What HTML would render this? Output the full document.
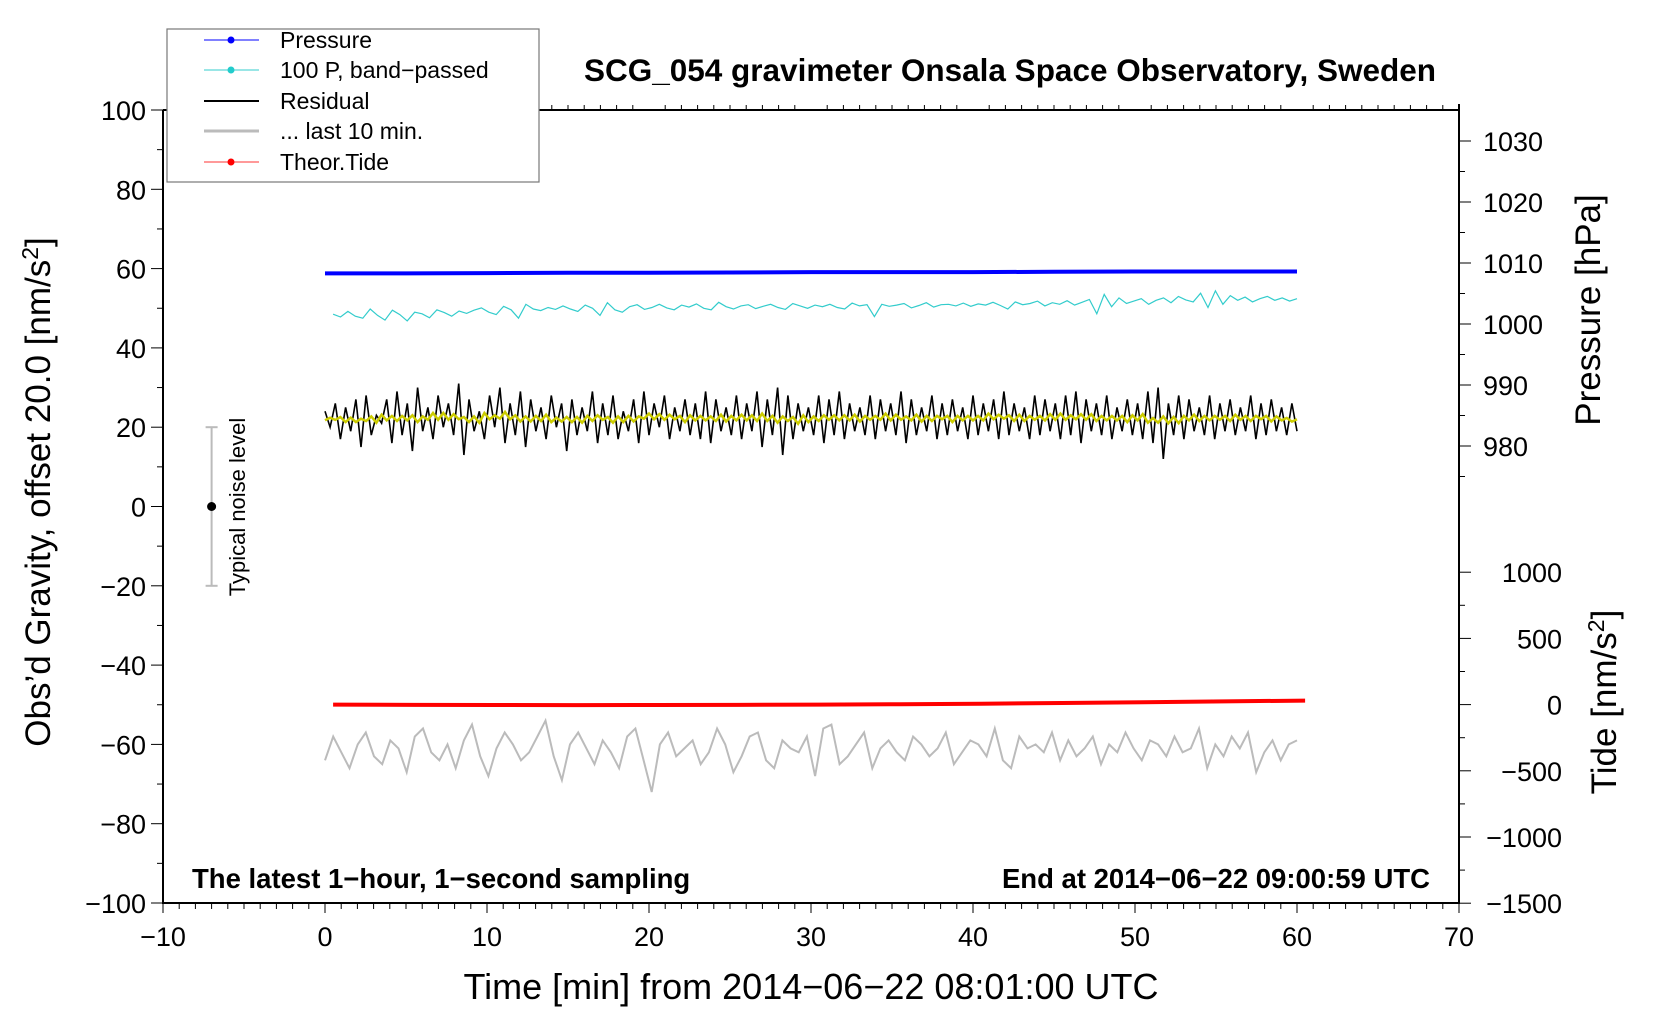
<!DOCTYPE html>
<html><head><meta charset="utf-8"><style>
html,body{margin:0;padding:0;background:#fff}
svg{display:block;font-family:"Liberation Sans",Arial,sans-serif}
</style></head><body>
<svg id="chart" width="1660" height="1020" viewBox="0 0 1660 1020">
<g id="marks"></g>
<g id="axes"></g>
<text x="1010" y="81" font-size="31.5" font-weight="bold" text-anchor="middle">SCG_054 gravimeter Onsala Space Observatory, Sweden</text>
<text x="192" y="888" font-size="27.5" font-weight="bold">The latest 1−hour, 1−second sampling</text>
<text x="1430" y="888" font-size="27.5" font-weight="bold" text-anchor="end">End at 2014−06−22 09:00:59 UTC</text>
<text transform="translate(50,492) rotate(-90)" font-size="35" text-anchor="middle">Obs’d Gravity, offset 20.0 [nm/s<tspan font-size="23" dy="-12">2</tspan><tspan dy="12">]</tspan></text>
<text transform="translate(1600,310) rotate(-90)" font-size="35" text-anchor="middle">Pressure [hPa]</text>
<text transform="translate(1616,702) rotate(-90)" font-size="35" text-anchor="middle">Tide [nm/s<tspan font-size="23" dy="-12">2</tspan><tspan dy="12">]</tspan></text>
<text x="811" y="999" font-size="36" text-anchor="middle">Time [min] from 2014−06−22 08:01:00 UTC</text>
<text transform="translate(245,507) rotate(-90)" font-size="22" text-anchor="middle">Typical noise level</text>
<g>
<rect x="167" y="29" width="372" height="153" fill="#fff" stroke="#777" stroke-width="1.2"/>
<line x1="204" x2="259" y1="40" y2="40" stroke="#0000ff" stroke-width="1"/><circle cx="231" cy="40" r="3.5" fill="#0000ff"/>
<text x="280" y="48" font-size="23">Pressure</text>
<line x1="204" x2="259" y1="70" y2="70" stroke="#33cccc" stroke-width="1"/><circle cx="231" cy="70" r="3.5" fill="#22cccc"/>
<text x="280" y="78" font-size="23">100 P, band−passed</text>
<line x1="204" x2="259" y1="101" y2="101" stroke="#000" stroke-width="2"/>
<text x="280" y="109" font-size="23">Residual</text>
<line x1="204" x2="259" y1="131" y2="131" stroke="#bbb" stroke-width="3"/>
<text x="280" y="139" font-size="23">... last 10 min.</text>
<line x1="204" x2="259" y1="162" y2="162" stroke="#ff3333" stroke-width="1"/><circle cx="231" cy="162" r="3.5" fill="#ff0000"/>
<text x="280" y="170" font-size="23">Theor.Tide</text>
</g>
</svg>
<script>
const xTicks=[-10,0,10,20,30,40,50,60,70];
const yTicks=[-100,-80,-60,-40,-20,0,20,40,60,80,100];
const pTicks=[980,990,1000,1010,1020,1030];
const tTicks=[-1500,-1000,-500,0,500,1000];
const pressure=[1008.3,1008.3,1008.35,1008.4,1008.4,1008.45,1008.5,1008.5,1008.5,1008.55,1008.6,1008.6,1008.6];
const tide=[0,-2,-3,-4,-3,-2,0,3,7,12,18,24,30];
const cyan=[48.5,47.8,49.2,48.0,47.5,49.8,48.2,47.0,49.5,48.4,46.8,49.0,48.6,47.6,49.6,48.9,48.0,49.3,48.7,49.5,50.1,49.0,48.4,50.5,49.6,47.5,51.0,49.8,49.4,50.2,49.7,50.6,49.8,49.2,50.8,50.0,48.2,51.4,49.6,49.0,50.4,50.9,49.7,50.2,51.0,50.1,49.6,50.8,50.3,51.1,50.0,49.6,51.5,50.4,49.8,50.6,50.9,49.9,50.5,51.0,50.2,49.7,51.2,50.6,50.0,50.8,50.4,51.0,50.2,49.8,51.3,50.6,50.9,47.9,51.0,50.5,50.8,51.2,50.1,50.7,51.4,50.3,50.9,51.0,50.6,51.3,50.5,51.1,50.8,51.5,50.7,49.8,51.6,50.9,51.2,51.8,50.6,51.4,51.0,51.9,50.8,51.5,52.2,48.6,53.5,50.4,52.6,51.2,51.8,52.4,51.0,52.0,52.6,51.4,53.0,52.1,51.6,53.8,50.2,54.4,51.0,53.2,52.0,52.8,51.6,52.4,53.0,52.0,52.6,51.8,52.4];
const resid=[24,20,26,17,25,19,27,15,28,18,23,21,27,16,29,18,26,14,30,19,25,17,28,20,26,18,31,13,27,19,24,17,28,20,30,16,26,18,29,15,27,19,25,17,28,20,26,14,27,18,25,19,29,16,26,18,28,17,24,19,27,16,29,18,26,20,28,17,25,19,27,18,26,17,29,16,27,19,25,18,28,17,26,19,29,15,27,18,30,13,28,17,26,19,25,18,28,16,27,18,29,17,26,19,25,18,28,17,27,19,26,18,29,16,27,18,25,19,28,17,26,18,27,19,25,17,28,18,26,19,27,17,29,18,26,19,25,17,28,18,27,19,26,17,28,18,29,16,27,19,26,18,28,17,25,19,27,18,26,17,29,16,30,12,26,18,28,17,27,19,25,18,28,17,26,19,27,18,25,19,28,17,26,18,27,19,25,18,26,19];
const gray=[-64,-58,-62,-66,-60,-57,-63,-65,-59,-61,-67,-58,-56,-62,-64,-60,-66,-59,-55,-63,-68,-61,-57,-60,-64,-62,-58,-54,-63,-69,-60,-57,-61,-65,-59,-62,-66,-58,-56,-64,-72,-60,-57,-63,-61,-59,-65,-62,-56,-60,-67,-63,-58,-57,-64,-66,-59,-61,-62,-58,-68,-56,-55,-65,-63,-60,-57,-66,-61,-59,-62,-64,-58,-60,-63,-61,-57,-65,-62,-59,-60,-63,-56,-64,-66,-58,-61,-60,-62,-57,-64,-59,-63,-61,-58,-65,-60,-62,-57,-61,-64,-59,-60,-63,-58,-62,-61,-56,-66,-60,-63,-58,-61,-57,-67,-62,-59,-64,-60,-59];
const X=v=>163+(v+10)*16.2;
const Y=v=>506.5-v*3.965;
const P=v=>141+(1030-v)*6.1;
const T=v=>704.6-v*0.1324;
const NS="http://www.w3.org/2000/svg";
const marks=document.getElementById('marks'),axes=document.getElementById('axes');
function mk(tag,attrs,parent){const e=document.createElementNS(NS,tag);for(const k in attrs)e.setAttribute(k,attrs[k]);parent.appendChild(e);return e;}
function series(arr,x0,x1,fy){return arr.map((v,i)=>(X(x0+(x1-x0)*i/(arr.length-1))).toFixed(1)+','+fy(v).toFixed(1)).join(' ');}
let e;
e=mk('polyline',{points:series(gray,0,60,Y),fill:'none',stroke:'#bbb','stroke-width':2},marks);


e=mk('polyline',{points:series(cyan,0.5,60,Y),fill:'none',stroke:'#33cccc','stroke-width':1.2},marks);


e=mk('polyline',{points:series(resid,0,60,Y),fill:'none',stroke:'#000','stroke-width':1.6},marks);


const sm=resid.map((v,i)=>{let s=0,n=0;for(let j=Math.max(0,i-3);j<=Math.min(resid.length-1,i+3);j++){s+=resid[j];n++;}return s/n;});
e=mk('polyline',{points:series(sm,0,60,Y),fill:'none',stroke:'#cccc00','stroke-width':2.5},marks);


e=mk('polyline',{points:series(pressure,0,60,P),fill:'none',stroke:'#0000ff','stroke-width':4},marks);


e=mk('polyline',{points:series(tide,0.5,60.5,T),fill:'none',stroke:'#ff0000','stroke-width':4},marks);


e=mk('g',{},marks);


mk('line',{x1:X(-7),x2:X(-7),y1:Y(20),y2:Y(-20),stroke:'#bbb','stroke-width':2},e);
mk('line',{x1:X(-7)-6,x2:X(-7)+6,y1:Y(20),y2:Y(20),stroke:'#bbb','stroke-width':2},e);
mk('line',{x1:X(-7)-6,x2:X(-7)+6,y1:Y(-20),y2:Y(-20),stroke:'#bbb','stroke-width':2},e);
mk('circle',{cx:X(-7),cy:Y(0),r:4.5,fill:'#000'},e);
e=mk('path',{d:`M${X(-10)},${Y(100)}V${Y(-100)}H${X(70)}V${Y(100)-6}M${X(-10)},${Y(100)}H${X(70)}`,fill:'none',stroke:'#000','stroke-width':2},axes);


for(let m=-10;m<=70;m++){const maj=m%10===0;mk('line',{x1:X(m),x2:X(m),y1:Y(-100),y2:Y(-100)+(maj?10:6),stroke:'#000','stroke-width':1},axes);
if(!maj) mk('line',{x1:X(m),x2:X(m),y1:Y(100),y2:Y(100)-5,stroke:'#000','stroke-width':1},axes);}
xTicks.forEach(t=>{e=mk('text',{x:X(t),y:Y(-100)+43,'font-size':27,'text-anchor':'middle'},axes);e.textContent=String(t).replace('-','−');

});
for(let v=-100;v<=100;v+=10){mk('line',{x1:X(-10),x2:X(-10)-(v%20===0?12:6),y1:Y(v),y2:Y(v),stroke:'#000','stroke-width':1},axes);}
yTicks.forEach(t=>{e=mk('text',{x:X(-10)-17,y:Y(t)+10,'font-size':27,'text-anchor':'end'},axes);e.textContent=String(t).replace('-','−');

});
for(let v=975;v<=1030;v+=5){mk('line',{x1:X(70),x2:X(70)+(v%10===0?12:6),y1:P(v),y2:P(v),stroke:'#000','stroke-width':1},axes);}
pTicks.forEach(t=>{e=mk('text',{x:X(70)+24,y:P(t)+10,'font-size':27},axes);e.textContent=t;

});
for(let v=-1500;v<=1000;v+=250){mk('line',{x1:X(70),x2:X(70)+(v%500===0?12:6),y1:T(v),y2:T(v),stroke:'#000','stroke-width':1},axes);}
tTicks.forEach(t=>{e=mk('text',{x:X(70)+103,y:T(t)+10,'font-size':27,'text-anchor':'end'},axes);e.textContent=String(t).replace('-','−');

});
</script>
</body></html>
